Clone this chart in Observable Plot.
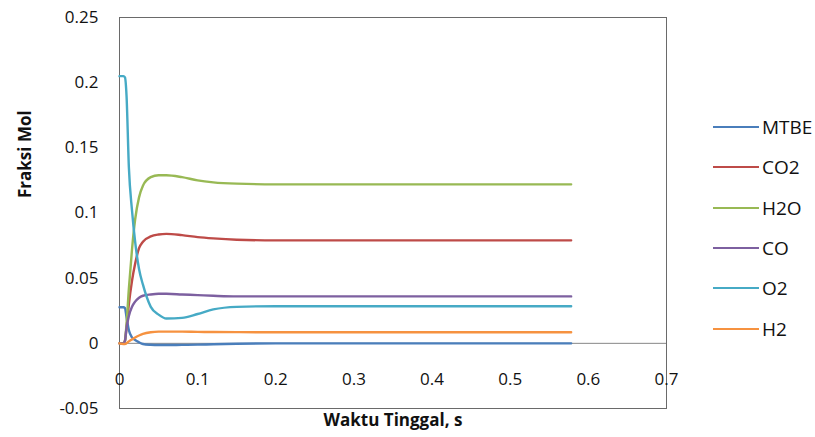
<!DOCTYPE html>
<html>
<head>
<meta charset="utf-8">
<script src="https://cdn.jsdelivr.net/npm/d3@7"></script>
<script src="https://cdn.jsdelivr.net/npm/@observablehq/plot@0.6"></script>
<style>
  body { margin: 0; background: #fff; }
  #chart { position: relative; width: 815px; height: 437px; font-family: "Open Sans", sans-serif; }
  #legend { position: absolute; left: 0; top: 0; }
  .item { position: absolute; left: 713px; height: 26px; display: flex; align-items: center; font-size: 19px; color: #111; white-space: nowrap; }
  .swatch { width: 46px; height: 0; border-top: 2.5px solid; margin-right: 3px; }
</style>
</head>
<body>
<div id="chart"><div id="legend"></div></div>
<script>
// Residence time (s)
const time = [0, 0.005, 0.007, 0.009, 0.012, 0.016, 0.02, 0.025, 0.03, 0.04, 0.05, 0.06, 0.08, 0.1, 0.12, 0.15, 0.2, 0.3, 0.4, 0.5, 0.578];

// Mole fraction of each species along the reactor
const mtbe = [0.0277, 0.0277, 0.027, 0.02, 0.01, 0.0045, 0.0025, 0.0008, -0.0005, -0.0011, -0.0013, -0.0013, -0.0012, -0.001, -0.0007, -0.0003, 0, 0, 0, 0, 0];
const co2  = [0, 0, 0.002, 0.012, 0.03, 0.048, 0.061, 0.073, 0.078, 0.082, 0.0835, 0.084, 0.083, 0.0815, 0.0805, 0.0795, 0.079, 0.079, 0.079, 0.079, 0.079];
const h2o  = [0, 0, 0.002, 0.015, 0.042, 0.072, 0.095, 0.112, 0.121, 0.1275, 0.129, 0.129, 0.1275, 0.125, 0.1235, 0.1225, 0.122, 0.122, 0.122, 0.122, 0.122];
const co   = [0, 0, 0.002, 0.012, 0.021, 0.028, 0.032, 0.035, 0.0365, 0.0375, 0.038, 0.038, 0.0375, 0.037, 0.0365, 0.036, 0.036, 0.036, 0.036, 0.036, 0.036];
const o2   = [0.205, 0.205, 0.204, 0.19, 0.135, 0.102, 0.078, 0.057, 0.045, 0.028, 0.022, 0.019, 0.0195, 0.0225, 0.026, 0.028, 0.0285, 0.0285, 0.0285, 0.0285, 0.0285];
const h2   = [0, -0.0005, -0.0005, 0, 0.0015, 0.003, 0.0045, 0.006, 0.0072, 0.0085, 0.009, 0.009, 0.009, 0.0088, 0.0087, 0.0086, 0.0085, 0.0085, 0.0085, 0.0085, 0.0085];

const seriesNames  = ["MTBE", "CO2", "H2O", "CO", "O2", "H2"];
const seriesValues = [mtbe, co2, h2o, co, o2, h2];
const seriesColors = ["#4a7ebb", "#be4b48", "#98b954", "#7d60a0", "#46aac5", "#f69240"];

const xTicks = [0, 0.1, 0.2, 0.3, 0.4, 0.5, 0.6, 0.7];
const yTicks = [-0.05, 0, 0.05, 0.1, 0.15, 0.2, 0.25];

// Long-format rows for Plot.line
const rows = seriesNames.flatMap((name, s) =>
  time.map((t, i) => ({ t, v: seriesValues[s][i], series: name }))
);

const plot = Plot.plot({
  width: 815,
  height: 437,
  marginLeft: 119,
  marginRight: 149,
  marginTop: 17,
  marginBottom: 29,
  style: { fontFamily: "Open Sans, sans-serif", fontSize: "17px", color: "#111", background: "#fff", overflow: "visible" },
  x: { domain: [0, 0.7], axis: null },
  y: { domain: [-0.05, 0.25], axis: null },
  color: { domain: seriesNames, range: seriesColors },
  marks: [
    Plot.ruleY([0], { stroke: "#868686", strokeWidth: 1 }),
    Plot.frame({ stroke: "#6a6a6a", strokeWidth: 1 }),
    Plot.line(rows, { x: "t", y: "v", stroke: "series", strokeWidth: 2.4, curve: "monotone-x" }),
    // y tick labels, left of the frame, no tick marks
    Plot.text(yTicks, { frameAnchor: "left", y: (d) => d, dx: -21, textAnchor: "end", text: (d) => String(d), fontSize: 17 }),
    // x tick labels sit just under the zero line
    Plot.text(xTicks, { x: (d) => d, y: () => 0, dy: 36, text: (d) => String(d), fontSize: 17 }),
    Plot.text(["Fraksi Mol"], { frameAnchor: "left", dx: -94, dy: -15, rotate: -90, fontWeight: "bold", fontSize: 17 }),
    Plot.text(["Waktu Tinggal, s"], { frameAnchor: "bottom", dy: 17, fontWeight: "bold", fontSize: 17 })
  ]
});

document.getElementById("chart").prepend(plot);

// Legend to the right of the plot area
const legendY = [127, 167, 208, 248, 288, 329];
const legend = d3.select("#legend");
seriesNames.forEach((name, i) => {
  const item = legend.append("div").attr("class", "item").style("top", (legendY[i] - 13) + "px");
  item.append("div").attr("class", "swatch").style("border-color", seriesColors[i]);
  item.append("span").text(name);
});
</script>
</body>
</html>
